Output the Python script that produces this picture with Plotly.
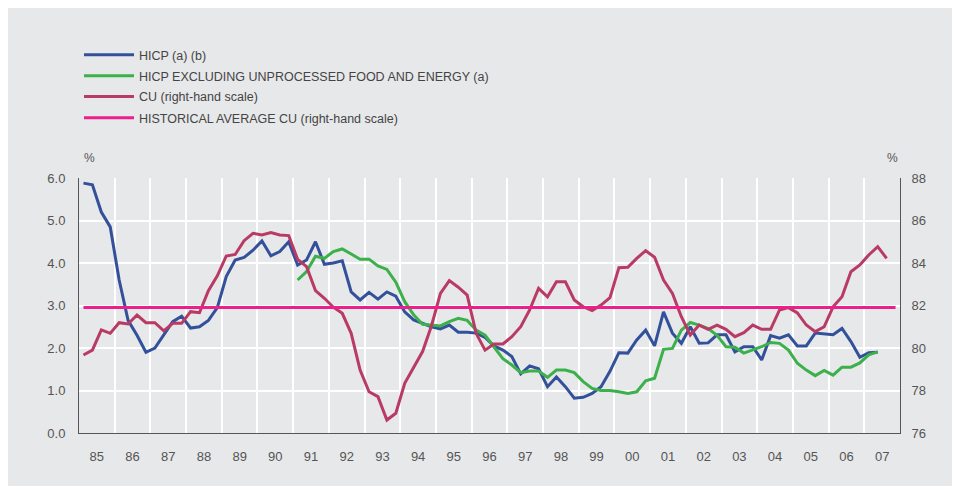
import plotly.graph_objects as go

# quarterly data, first quarter of each series given by its start year (Q1)
HICP_START = 1985
HICP = [
    5.88, 5.84, 5.20, 4.85,  3.60, 2.65, 2.30, 1.90,  2.00, 2.30, 2.62, 2.75,
    2.47, 2.50, 2.65, 2.95,  3.68, 4.07, 4.13, 4.30,  4.52, 4.17, 4.27, 4.50,
    3.95, 4.07, 4.50, 3.97,  4.00, 4.05, 3.32, 3.13,  3.31, 3.15, 3.32, 3.22,
    2.85, 2.66, 2.58, 2.50,  2.45, 2.54, 2.37, 2.37,  2.35, 2.25, 2.05, 1.95,
    1.80, 1.39, 1.58, 1.51,  1.09, 1.32, 1.09, 0.82,  0.84, 0.93, 1.09, 1.45,
    1.89, 1.88, 2.19, 2.42,  2.05, 2.85, 2.35, 2.11,  2.50, 2.11, 2.12, 2.31,
    2.31, 1.91, 2.03, 2.03,  1.72, 2.29, 2.23, 2.31,  2.05, 2.05, 2.35, 2.33,
    2.31, 2.46, 2.15, 1.78,  1.89, 1.90,
]

CORE_START = 1991
CORE = [
    3.60, 3.80, 4.16, 4.11,  4.27, 4.33, 4.21, 4.09,  4.09, 3.93, 3.85, 3.55,
    3.09, 2.78, 2.56, 2.54,  2.52, 2.62, 2.70, 2.65,  2.42, 2.30, 2.03, 1.75,
    1.60, 1.42, 1.46, 1.46,  1.31, 1.48, 1.48, 1.42,  1.21, 1.05, 1.00, 1.00,
    0.97, 0.93, 0.97, 1.23,  1.29, 1.97, 1.99, 2.42,  2.60, 2.54, 2.46, 2.30,
    2.03, 2.02, 1.88, 1.95,  2.03, 2.13, 2.11, 1.95,  1.64, 1.48, 1.35, 1.47,
    1.36, 1.55, 1.55, 1.65,  1.84, 1.91,
]

CU_START = 1985
CU = [
    79.67, 79.90, 80.85, 80.69,  81.19, 81.13, 81.55, 81.19,  81.19, 80.81, 81.16, 81.16,
    81.71, 81.66, 82.70, 83.40,  84.33, 84.40, 85.05, 85.40,  85.32, 85.43, 85.32, 85.29,
    84.17, 83.83, 82.70, 82.34,  81.92, 81.63, 80.69, 78.96,  77.94, 77.71, 76.61, 76.93,
    78.34, 79.12, 79.83, 81.05,  82.57, 83.17, 82.86, 82.49,  80.69, 79.90, 80.19, 80.19,
    80.53, 81.00, 81.79, 82.81,  82.41, 83.12, 83.12, 82.26,  81.94, 81.76, 82.02, 82.37,
    83.78, 83.80, 84.22, 84.58,  84.27, 83.20, 82.57, 81.47,  80.61, 81.08, 80.88, 81.08,
    80.88, 80.53, 80.72, 81.08,  80.88, 80.88, 81.79, 81.90,  81.65, 81.08, 80.77, 81.00,
    81.94, 82.41, 83.59, 83.91,  84.38, 84.77, 84.22,
]

HIST_AVG_CU = 81.9
HIST_PERIOD = (1985, 2007)  # first and last year covered by the average line

YEAR_LABELS = ["85", "86", "87", "88", "89", "90", "91", "92", "93", "94", "95", "96",
               "97", "98", "99", "00", "01", "02", "03", "04", "05", "06", "07"]
LEFT_TICKS = [0, 1, 2, 3, 4, 5, 6]
RIGHT_TICKS = [76, 78, 80, 82, 84, 86, 88]

BLUE = "#33509a"
GREEN = "#3cb04a"
CRIMSON = "#b93a63"
PINK = "#ec1f8b"
BG = "#e7e8ea"
TXT = "#555555"
AXIS = "#555555"


def quarter_x(start_year, n):
    # centre of each quarter as a decimal year
    return [start_year + (i + 0.5) / 4 for i in range(n)]


def legend_box(y):
    # one legend per entry so the row spacing can follow the original
    return dict(x=0.0, y=y, xanchor="left", yanchor="middle", bgcolor="rgba(0,0,0,0)",
                font=dict(size=12.5, color="#444444"), itemwidth=50)


hist_x = quarter_x(HIST_PERIOD[0], (HIST_PERIOD[1] - HIST_PERIOD[0] + 1) * 4)

fig = go.Figure()
fig.add_trace(go.Scatter(x=quarter_x(HICP_START, len(HICP)), y=HICP, mode="lines",
                         name="HICP (a) (b)", legend="legend",
                         line=dict(color=BLUE, width=3)))
fig.add_trace(go.Scatter(x=quarter_x(CORE_START, len(CORE)), y=CORE, mode="lines",
                         name="HICP EXCLUDING UNPROCESSED FOOD AND ENERGY (a)",
                         legend="legend2", line=dict(color=GREEN, width=3)))
fig.add_trace(go.Scatter(x=quarter_x(CU_START, len(CU)), y=CU, mode="lines", yaxis="y2",
                         name="CU (right-hand scale)", legend="legend3",
                         line=dict(color=CRIMSON, width=3)))
fig.add_trace(go.Scatter(x=hist_x, y=[HIST_AVG_CU] * len(hist_x), mode="lines", yaxis="y2",
                         name="HISTORICAL AVERAGE CU (right-hand scale)", legend="legend4",
                         line=dict(color=PINK, width=3)))

tick_pos = [1985.5 + i for i in range(len(YEAR_LABELS))]

# page body adds an 8px margin, so the figure is a little smaller than the window
fig.update_layout(
    width=944, height=478,
    paper_bgcolor=BG, plot_bgcolor=BG,
    font=dict(family="Liberation Sans, Arial, sans-serif", size=13, color=TXT),
    margin=dict(l=71, r=52, t=170, b=53),
    showlegend=True,
    legend=legend_box(1.482),
    legend2=legend_box(1.400),
    legend3=legend_box(1.318),
    legend4=legend_box(1.235),
    xaxis=dict(range=[1985, 2008], tickvals=tick_pos, ticktext=YEAR_LABELS,
               showgrid=False, zeroline=False, ticks="", showline=True,
               linecolor=AXIS, linewidth=1, ticklabelstandoff=11,
               minor=dict(tick0=1985, dtick=1, showgrid=True, gridcolor="white",
                          gridwidth=2, ticks="")),
    yaxis=dict(range=[0, 6], tickvals=LEFT_TICKS, tickformat=".1f", showgrid=True,
               gridcolor="white", gridwidth=2, zeroline=False, showline=True,
               linecolor=AXIS, linewidth=1, ticks="", ticklabelstandoff=10),
    yaxis2=dict(range=[76, 88], tickvals=RIGHT_TICKS, overlaying="y", side="right",
                showgrid=False, zeroline=False, showline=True, linecolor=AXIS,
                linewidth=1, ticks="", ticklabelstandoff=8),
    annotations=[
        dict(text="%", xref="paper", yref="paper", x=0.004, y=1.078, xanchor="left",
             yanchor="middle", showarrow=False, font=dict(size=12, color=TXT)),
        dict(text="%", xref="paper", yref="paper", x=1.0, y=1.078, xanchor="right",
             yanchor="middle", showarrow=False, font=dict(size=12, color=TXT)),
    ],
)

fig.write_html("out.html")
